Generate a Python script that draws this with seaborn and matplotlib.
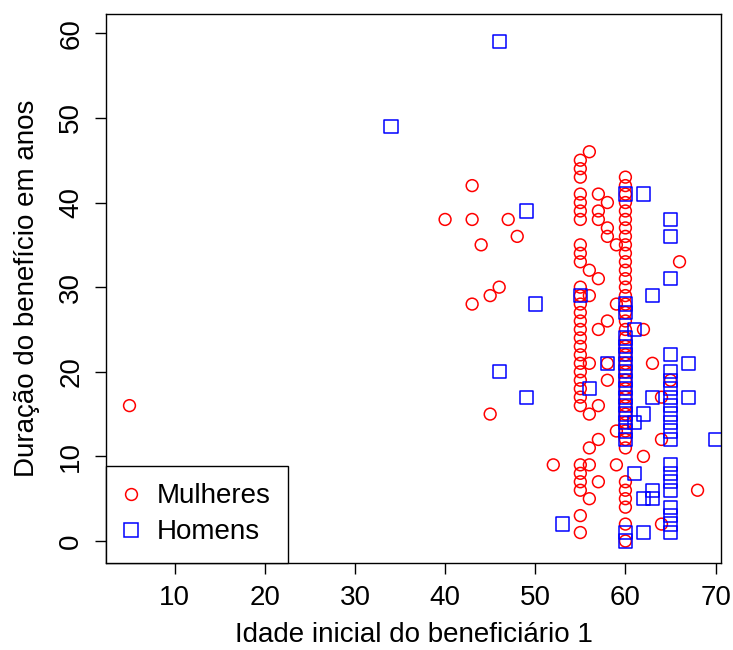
import matplotlib
matplotlib.use("Agg")
import matplotlib.pyplot as plt
import seaborn as sns
import pandas as pd
from matplotlib.lines import Line2D

# ---- data ----
mulheres_idade = [5, 40, 43, 43, 44, 47, 48, 43, 45, 46, 45, 52,
                  55, 55, 55, 55, 55, 55, 55, 55, 55, 55, 55, 55, 55, 55, 55, 55,
                  55, 55, 55, 55, 55, 55, 55, 55, 55, 55, 55, 55, 55, 55, 55,
                  56, 57, 58, 57, 57, 58, 58, 59, 56, 57, 56, 59, 58, 57, 62, 56,
                  58, 63, 58, 57, 56, 59, 57, 56, 64, 64, 62, 56, 59, 57, 56, 68,
                  64, 66, 65,
                  60, 60, 60, 60, 60, 60, 60, 60, 60, 60, 60, 60, 60, 60, 60, 60,
                  60, 60, 60, 60, 60, 60, 60, 60, 60, 60, 60, 60, 60, 60, 60, 60,
                  60, 60, 60, 60, 60, 60, 60]
mulheres_duracao = [16, 38, 42, 38, 35, 38, 36, 28, 29, 30, 15, 9,
                    45, 44, 43, 41, 40, 39, 38, 35, 34, 33, 30, 29, 28, 27, 26, 25,
                    24, 23, 22, 21, 20, 19, 18, 17, 16, 9, 8, 7, 6, 3, 1,
                    46, 41, 40, 39, 38, 37, 36, 35, 32, 31, 29, 28, 26, 25, 25, 21,
                    21, 21, 19, 16, 15, 13, 12, 11, 12, 17, 10, 9, 9, 7, 5, 6,
                    2, 33, 19,
                    43, 42, 41, 40, 39, 38, 37, 36, 35, 34, 33, 32, 31, 30, 29, 28,
                    27, 26, 25, 24, 23, 22, 21, 20, 19, 18, 17, 16, 15, 14, 13, 12,
                    11, 7, 6, 5, 4, 2, 0]

homens_idade = [34, 46, 49, 50, 46, 49, 53, 55, 56, 58, 60, 62, 60, 60,
                60, 60, 60, 60, 60, 60, 60, 60, 60, 60, 60, 60, 60,
                61, 63, 65, 65, 65, 65, 65, 65, 65, 65, 65, 65, 65, 65, 65,
                65, 65, 65, 65, 65, 65, 65, 65,
                67, 67, 63, 62, 61, 61, 62, 63, 63, 62, 60, 60, 70]
homens_duracao = [49, 59, 39, 28, 20, 17, 2, 29, 18, 21, 41, 41, 28, 27,
                  24, 23, 22, 21, 20, 19, 18, 17, 16, 15, 14, 13, 12,
                  25, 29, 38, 36, 31, 22, 20, 19, 18, 17, 16, 15, 14, 13, 12,
                  9, 8, 7, 6, 4, 3, 2, 1,
                  21, 17, 17, 15, 14, 8, 5, 6, 5, 1, 1, 0, 12]

rotulos = ["Mulheres", "Homens"]
x_ticks = [10, 20, 30, 40, 50, 60, 70]
y_ticks = [0, 10, 20, 30, 40, 50, 60]

df = pd.DataFrame({
    "idade": mulheres_idade + homens_idade,
    "duracao": mulheres_duracao + homens_duracao,
    "sexo": [rotulos[0]] * len(mulheres_idade) + [rotulos[1]] * len(homens_idade),
})

sns.set_style("ticks")
plt.rcParams["font.family"] = ["Liberation Sans", "DejaVu Sans"]
plt.rcParams["font.size"] = 20
plt.rcParams["text.color"] = "black"
plt.rcParams["axes.labelcolor"] = "black"
plt.rcParams["xtick.color"] = "black"
plt.rcParams["ytick.color"] = "black"
plt.rcParams["axes.edgecolor"] = "black"

fig = plt.figure(figsize=(7.33, 6.5), dpi=100)
ax = fig.add_axes([106.5 / 733, 1 - 562.5 / 650, (721 - 106.5) / 733, (562.5 - 14) / 650])

cores = {"Mulheres": "#FF0000", "Homens": "#0000FF"}
marcadores = {"Mulheres": "o", "Homens": "s"}
tamanhos = {"Mulheres": 8.5 ** 2, "Homens": 9.5 ** 2}

for sexo in rotulos:
    sub = df[df["sexo"] == sexo]
    sns.scatterplot(data=sub, x="idade", y="duracao", marker=marcadores[sexo],
                    s=tamanhos[sexo], color=cores[sexo], edgecolor=cores[sexo],
                    linewidth=1.1, ax=ax, legend=False, zorder=3)
for coll in ax.collections:
    coll.set_facecolor("none")

ax.set_xlim(2.45, 70.6)
ax.set_ylim(-2.54, 62.28)
ax.set_xticks(x_ticks)
ax.set_yticks(y_ticks)
ax.tick_params(axis="both", direction="out", length=8, width=1, colors="black",
               labelsize=20, pad=8)
for lab in ax.get_yticklabels():
    lab.set_rotation(90)
    lab.set_va("center")

for sp in ax.spines.values():
    sp.set_color("black")
    sp.set_linewidth(1.0)

ax.set_xlabel("Idade inicial do beneficiário 1", fontsize=20, color="black")
ax.set_ylabel("Duração do benefício em anos", fontsize=20, color="black")
ax.xaxis.set_label_coords(0.5, (562.5 - 642) / 548.5)
ax.xaxis.label.set_va("baseline")
ax.yaxis.set_label_coords((34 - 106.5) / 614.5, 0.5)
ax.yaxis.label.set_va("baseline")

handles = [
    Line2D([], [], marker="o", ls="", mfc="none", mec=cores["Mulheres"], ms=8.5, mew=1.1),
    Line2D([], [], marker="s", ls="", mfc="none", mec=cores["Homens"], ms=9.5, mew=1.1),
]
leg = ax.legend(handles, rotulos, loc="lower left", bbox_to_anchor=(0, 0),
                borderaxespad=0, fancybox=False, framealpha=1, edgecolor="black",
                fontsize=20, borderpad=0.62, labelspacing=0.36, handlelength=0.5,
                handletextpad=0.7)
leg.get_frame().set_linewidth(1.0)
for t in leg.get_texts():
    t.set_color("black")
leg.set_zorder(5)

fig.savefig("out.png", dpi=100)
